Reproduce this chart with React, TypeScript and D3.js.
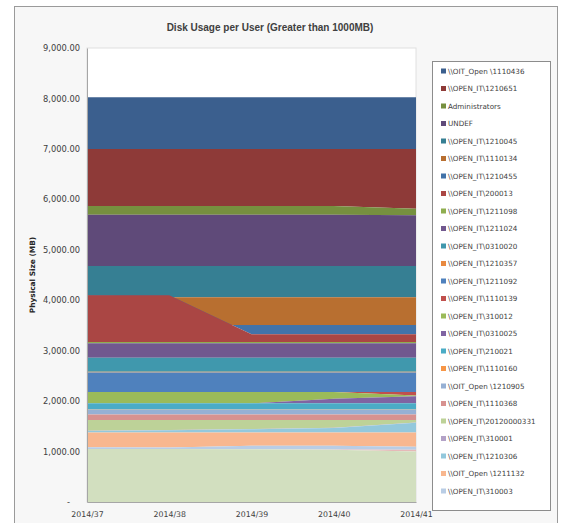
import React, { useEffect, useRef } from 'react';
import * as d3 from 'd3';

// Weekly snapshots on the category axis
const weeks = ['2014/37', '2014/38', '2014/39', '2014/40', '2014/41'];
const yTicks = [0, 1000, 2000, 3000, 4000, 5000, 6000, 7000, 8000, 9000];

// Series values (MB), listed bottom of the stack first
const hiddenA = [1050, 1050, 1045, 1035, 1000]; // legend entry cut off
const hiddenB = [0, 0, 0, 5, 34]; // legend entry cut off
const u310003 = [34, 32, 71, 73, 60];
const u1211132 = [294, 296, 262, 265, 284];
const u1210306 = [30, 43, 63, 88, 193];
const u310001 = [5, 5, 5, 5, 5];
const u20120000331 = [213, 200, 180, 155, 50];
const u1110368 = [110, 110, 110, 110, 110];
const u1210905 = [95, 95, 95, 95, 95];
const u1110160 = [5, 5, 5, 5, 5];
const u210021 = [120, 120, 120, 120, 120];
const u0310025 = [0, 0, 0, 93, 140];
const u310012 = [226, 226, 226, 133, 13];
const u1110139 = [0, 0, 0, 0, 73];
const u1211092 = [385, 385, 385, 385, 385];
const u1210357 = [15, 15, 15, 15, 15];
const u0310020 = [280, 280, 280, 280, 280];
const u1211024 = [285, 285, 285, 285, 285];
const u1211098 = [25, 25, 25, 25, 25];
const u200013 = [926, 926, 153, 153, 153];
const u1210455 = [0, -589, 184, 184, 184];
const u1110134 = [0, 550, 550, 550, 550];
const u1210045 = [580, 620, 620, 620, 620];
const uUNDEF = [1017, 1016, 1016, 1016, 1005];
const uAdministrators = [172, 172, 172, 172, 130];
const u1210651 = [1131, 1131, 1131, 1131, 1184];
const u1110436 = [1025, 1025, 1025, 1025, 1025];

const seriesNames = [
  '(hidden 1)',
  '(hidden 2)',
  '\\\\OPEN_IT\\310003',
  '\\\\OIT_Open \\1211132',
  '\\\\OPEN_IT\\1210306',
  '\\\\OPEN_IT\\310001',
  '\\\\OPEN_IT\\20120000331',
  '\\\\OPEN_IT\\1110368',
  '\\\\OIT_Open \\1210905',
  '\\\\OPEN_IT\\1110160',
  '\\\\OPEN_IT\\210021',
  '\\\\OPEN_IT\\0310025',
  '\\\\OPEN_IT\\310012',
  '\\\\OPEN_IT\\1110139',
  '\\\\OPEN_IT\\1211092',
  '\\\\OPEN_IT\\1210357',
  '\\\\OPEN_IT\\0310020',
  '\\\\OPEN_IT\\1211024',
  '\\\\OPEN_IT\\1211098',
  '\\\\OPEN_IT\\200013',
  '\\\\OPEN_IT\\1210455',
  '\\\\OPEN_IT\\1110134',
  '\\\\OPEN_IT\\1210045',
  'UNDEF',
  'Administrators',
  '\\\\OPEN_IT\\1210651',
  '\\\\OIT_Open \\1110436',
];

const seriesValues = [
  hiddenA, hiddenB, u310003, u1211132, u1210306, u310001, u20120000331,
  u1110368, u1210905, u1110160, u210021, u0310025, u310012, u1110139,
  u1211092, u1210357, u0310020, u1211024, u1211098, u200013, u1210455,
  u1110134, u1210045, uUNDEF, uAdministrators, u1210651, u1110436,
];

const seriesColors = [
  '#d2dfbf', '#e6b9b8', '#b9cde5', '#f8b78f', '#93c8dc', '#b3a2c7',
  '#bdd298', '#d79290', '#96b0d4', '#f79646', '#4bacc6', '#8064a2',
  '#9bbb59', '#c0504d', '#4f81bd', '#e8893f', '#4098ad', '#71588f',
  '#8fae50', '#aa4644', '#4273a9', '#b86f30', '#367f93', '#5f4a79',
  '#76903f', '#8e3a38', '#3b5f8e',
];

const legendCount = 25; // the last two stack entries don't fit in the legend box

const W = 569;
const H = 523;
const plot = { left: 87, right: 416, top: 48, bottom: 502 };
const FONT = '"DejaVu Sans", Verdana, sans-serif';

export default function App() {
  const xAxisRef = useRef<SVGGElement>(null);
  const yAxisRef = useRef<SVGGElement>(null);

  const x = d3.scalePoint<string>().domain(weeks).range([plot.left, plot.right]);
  const y = d3.scaleLinear().domain([0, 9000]).range([plot.bottom, plot.top]);

  const rows = weeks.map((w, i) => {
    const row: Record<string, any> = { week: w };
    seriesNames.forEach((n, s) => {
      row[n] = seriesValues[s][i];
    });
    return row;
  });

  const stacked = d3
    .stack<Record<string, any>>()
    .keys(seriesNames)
    .order(d3.stackOrderNone)
    .offset(d3.stackOffsetNone)(rows);

  const area = d3
    .area<any>()
    .x((d) => x(d.data.week) as number)
    .y0((d) => y(d[0]))
    .y1((d) => y(d[1]));

  useEffect(() => {
    if (!xAxisRef.current || !yAxisRef.current) return;

    const yAxis = d3
      .axisLeft(y)
      .tickValues(yTicks)
      .tickSize(0)
      .tickSizeOuter(0)
      .tickPadding(7)
      .tickFormat((d) => (+d === 0 ? '-' : d3.format(',.2f')(+d)));

    const gy = d3.select(yAxisRef.current);
    gy.selectAll('*').remove();
    gy.call(yAxis);
    gy.select('.domain').attr('stroke', '#a6a6a6');
    gy.selectAll('text')
      .attr('fill', '#404040')
      .style('font-family', FONT)
      .style('font-size', '8.3px');
    gy.selectAll<SVGTextElement, number>('text')
      .filter((d) => d === 0)
      .attr('x', -17);

    const xAxis = d3.axisBottom(x).tickSize(0).tickSizeOuter(0).tickPadding(9);
    const gx = d3.select(xAxisRef.current);
    gx.selectAll('*').remove();
    gx.call(xAxis);
    gx.select('.domain').attr('stroke', '#a6a6a6');
    gx.selectAll('text')
      .attr('fill', '#404040')
      .style('font-family', FONT)
      .style('font-size', '7.8px');
  }, []);

  const legendItems = d3.range(legendCount).map((i) => seriesNames.length - 1 - i);

  return (
    <div style={{ position: 'fixed', left: 0, top: 0 }}>
      <svg width={W} height={H} style={{ display: 'block', background: '#ffffff' }}>
        <rect x={14.5} y={6.5} width={543} height={530} fill="#f7f7f7" stroke="#9a9a9a" />
        <text
          x={270}
          y={31}
          textAnchor="middle"
          fontFamily='"Liberation Sans", Arial, sans-serif'
          fontWeight="bold"
          fontSize={10}
          fill="#404040"
        >
          Disk Usage per User (Greater than 1000MB)
        </text>

        <rect
          x={plot.left}
          y={plot.top}
          width={plot.right - plot.left}
          height={plot.bottom - plot.top}
          fill="#ffffff"
          stroke="#e0e0e0"
        />

        {/* drawn top-down so the lower layers sit over the upper ones where they overlap */}
        {stacked
          .slice()
          .reverse()
          .map((s) => (
            <path key={s.key} d={area(s as any) as string} fill={seriesColors[s.index]} />
          ))}

        <g ref={yAxisRef} transform={`translate(${plot.left},0)`} />
        <g ref={xAxisRef} transform={`translate(0,${plot.bottom})`} />

        <text
          transform={`translate(35,${(plot.top + plot.bottom) / 2}) rotate(-90)`}
          textAnchor="middle"
          fontFamily={FONT}
          fontWeight="bold"
          fontSize={7.4}
          fill="#262626"
        >
          Physical Size (MB)
        </text>

        <g>
          <rect x={432.5} y={61.5} width={118} height={449} fill="#ffffff" stroke="#8c8c8c" />
          {legendItems.map((si, i) => (
            <g key={seriesNames[si]} transform={`translate(441,${71 + i * 17.5})`}>
              <rect x={0} y={-2.5} width={5} height={5} fill={seriesColors[si]} />
              <text
                x={7}
                y={0}
                dy="0.35em"
                fontFamily={FONT}
                fontSize={7.2}
                fill="#404040"
              >
                {seriesNames[si]}
              </text>
            </g>
          ))}
        </g>
      </svg>
    </div>
  );
}
